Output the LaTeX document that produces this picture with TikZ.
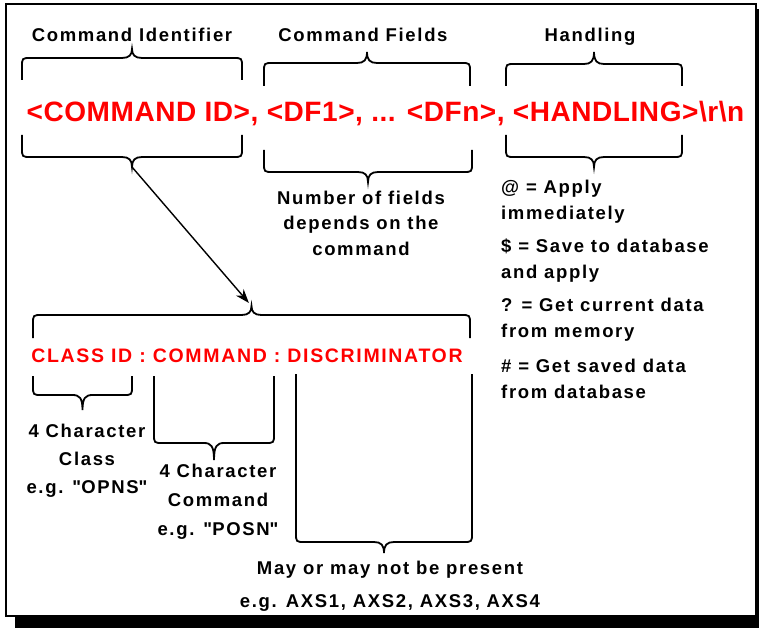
\documentclass[tikz,border=0pt]{standalone}
\usepackage{fontspec}
\setmainfont{Liberation Sans}
\usetikzlibrary{arrows.meta}
\definecolor{cmdred}{RGB}{255,0,0}

% brace with tip pointing up: x1, x2, y of horizontal, y of free ends (below), y of tip (above)
\newcommand{\upbrace}[5]{%
  \draw[brace] (#1,#4) -- (#1,#3+9) .. controls (#1,#3) .. (#1+9,#3)
    -- ({(#1+#2)/2-10},#3) .. controls ({(#1+#2)/2-3},#3) and ({(#1+#2)/2},#3-3) .. ({(#1+#2)/2},#5)
    .. controls ({(#1+#2)/2},#3-3) and ({(#1+#2)/2+3},#3) .. ({(#1+#2)/2+10},#3)
    -- (#2-9,#3) .. controls (#2,#3) .. (#2,#3+9) -- (#2,#4);}
% brace with tip pointing down: x1, x2, y of horizontal, y of free ends (above), y of tip (below)
\newcommand{\downbrace}[5]{%
  \draw[brace] (#1,#4) -- (#1,#3-9) .. controls (#1,#3) .. (#1+9,#3)
    -- ({(#1+#2)/2-10},#3) .. controls ({(#1+#2)/2-3},#3) and ({(#1+#2)/2},#3+3) .. ({(#1+#2)/2},#5)
    .. controls ({(#1+#2)/2},#3+3) and ({(#1+#2)/2+3},#3) .. ({(#1+#2)/2+10},#3)
    -- (#2-9,#3) .. controls (#2,#3) .. (#2,#3-9) -- (#2,#4);}

\newcommand{\smallfont}[1]{\fontsize{18.5}{#1}\selectfont\bfseries\addfontfeatures{LetterSpace=9}}

\tikzset{
  brace/.style={line width=1.8pt, black},
  frameline/.style={line width=2pt, black},
  smalltext/.style={font=\smallfont{25.5}, inner sep=0pt, text=black},
  centered/.style={smalltext, align=center, anchor=base},
  leftlist/.style={smalltext, align=left, anchor=base west},
  bigred/.style={font=\fontsize{28}{34}\selectfont\bfseries\addfontfeatures{LetterSpace=2}, inner sep=0pt, text=cmdred, anchor=base},
  midred/.style={font=\fontsize{19.5}{24}\selectfont\bfseries\addfontfeatures{LetterSpace=8.5}, inner sep=0pt, text=cmdred, anchor=base},
  arr/.style={line width=1.4pt, -{Stealth[length=14pt,width=10pt]}, shorten >=4pt},
}

\begin{document}
\begin{tikzpicture}[x=1pt,y=-1pt]
\useasboundingbox (0,0) rectangle (759,628);
% frame and shadow
\fill[black] (15,617) rectangle (759,628);
\fill[black] (756,9) rectangle (759,628);
\draw[frameline] (6,4) rectangle (756,616);

% titles
\node[centered] (tcid) at (132,42) {Command Identifier};
\node[centered] (tfields) at (363,42) {Command Fields};
\node[centered] (thand) at (590,42) {Handling};

% top braces
\upbrace{22}{242}{58}{80}{49}
\upbrace{264}{470}{63}{86}{52}
\upbrace{506}{682}{64}{86}{52}

% command line
\node[bigred] (cmdline) at (385.5,122) {<COMMAND ID>, <DF1>, ... <DFn>, <HANDLING>\textbackslash r\textbackslash n};

% bottom braces
\downbrace{22}{242}{157}{135}{167}
\downbrace{264}{472}{172}{150}{182}
\downbrace{506}{682}{157}{135}{167}

% (multi-line nodes are placed by the baseline of their last line)
\node[centered] (nfields) at (361,255) {Number of fields\\depends on the\\command};

\node[leftlist] (happly) at (501,219) {@ = Apply\\immediately};
\node[leftlist] (hsave) at (501,278) {\$ = Save to database\\and apply};
\node[leftlist] (hget) at (501,337) {? = Get current data\\from memory};
\node[leftlist] (hsaved) at (501,398) {\# = Get saved data\\from database};

% lower structure
\upbrace{33}{470}{315}{338}{306}
\node[midred] (classline) at (247,362) {CLASS ID : COMMAND : DISCRIMINATOR};
\downbrace{33}{132}{395}{376}{410}
\downbrace{154}{274}{443}{376}{460}
\downbrace{296}{472}{542}{374}{553}

\node[centered, font=\smallfont{28}] (cls) at (87,493) {4 Character\\Class\\e.g. \textquotedbl OPNS\textquotedbl};
\node[centered, font=\smallfont{29}] (cmd) at (218,535) {4 Character\\Command\\e.g. \textquotedbl POSN\textquotedbl};
\node[centered, font=\smallfont{33}] (disc) at (390,607) {May or may not be present\\e.g. AXS1, AXS2, AXS3, AXS4};

% arrow
\coordinate (cidtip) at (132,167);
\coordinate (bigtip) at (251.5,306);
\draw[arr] (cidtip) -- (bigtip);
\end{tikzpicture}
\end{document}
